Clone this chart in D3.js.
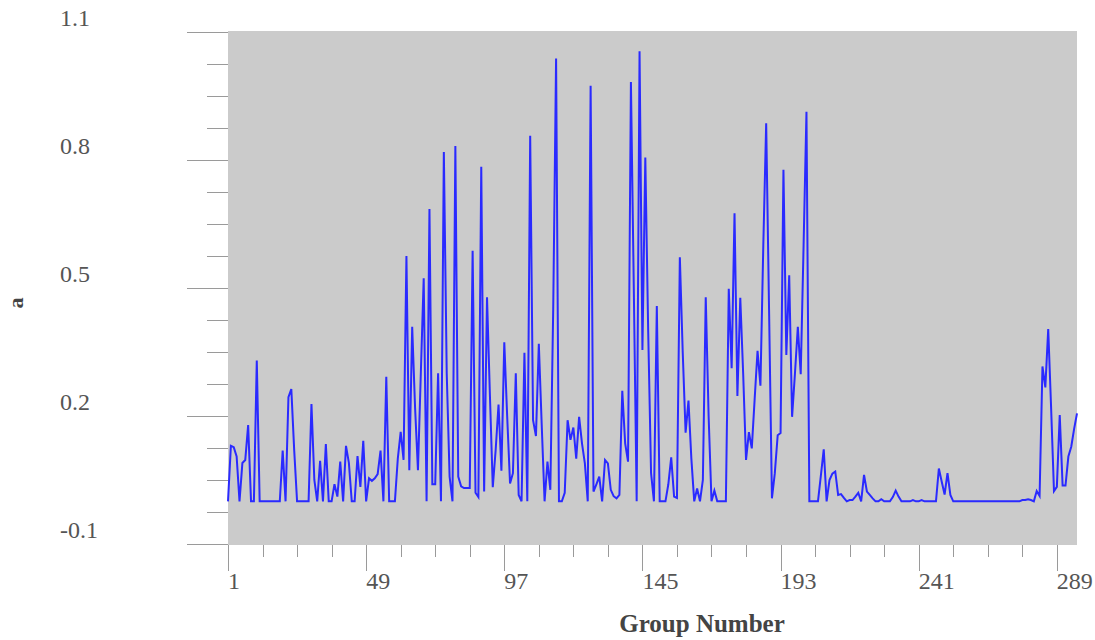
<!DOCTYPE html>
<html>
<head>
<meta charset="utf-8">
<script src="https://cdn.jsdelivr.net/npm/d3@7"></script>
<style>
  html, body { margin: 0; padding: 0; background: #ffffff; }
  svg { display: block; }
</style>
</head>
<body>
<svg id="chart" width="1095" height="640"></svg>
<script>
// Series "a" per group (groups numbered 1..296)
const aValues = [
  0, 0.13, 0.127, 0.105, 0, 0.09, 0.097, 0.179, 0, 0,
  0.33, 0, 0, 0, 0, 0, 0, 0, 0, 0.119,
  0, 0.244, 0.263, 0.12, 0, 0, 0, 0, 0, 0.228,
  0.05, 0, 0.095, 0, 0.134, 0, 0, 0.04, 0.011, 0.093,
  0, 0.13, 0.09, 0, 0, 0.106, 0.034, 0.142, 0, 0.054,
  0.048, 0.054, 0.064, 0.119, 0, 0.292, 0, 0, 0, 0.1,
  0.163, 0.097, 0.575, 0.073, 0.409, 0.22, 0.073, 0.3, 0.523, 0,
  0.685, 0.04, 0.04, 0.30, 0, 0.819, 0.3, 0.058, 0, 0.833,
  0.058, 0.035, 0.031, 0.031, 0.031, 0.587, 0.02, 0.01, 0.784, 0.023,
  0.478, 0.25, 0.033, 0.12, 0.227, 0.072, 0.373, 0.2, 0.042, 0.066,
  0.30, 0.015, 0, 0.348, 0, 0.857, 0.19, 0.153, 0.369, 0.18,
  0, 0.093, 0.027, 0.45, 1.038, 0, 0, 0.02, 0.19, 0.144,
  0.173, 0.10, 0.198, 0.136, 0.089, 0, 0.974, 0.023, 0.04, 0.058,
  0, 0.097, 0.089, 0.027, 0.012, 0.007, 0.015, 0.259, 0.136, 0.093,
  0.983, 0.5, 0, 1.055, 0.355, 0.806, 0.4, 0.066, 0, 0.458,
  0, 0, 0, 0.04, 0.103, 0.011, 0.008, 0.572, 0.35, 0.161,
  0.236, 0.1, 0, 0.03, 0, 0.05, 0.478, 0.2, 0, 0.025,
  0, 0, 0, 0, 0.498, 0.312, 0.675, 0.247, 0.477, 0.3,
  0.097, 0.162, 0.124, 0.24, 0.353, 0.271, 0.6, 0.886, 0.45, 0.007,
  0.066, 0.155, 0.16, 0.777, 0.343, 0.53, 0.198, 0.3, 0.409, 0.298,
  0.6, 0.913, 0, 0, 0, 0, 0.06, 0.122, 0, 0.05,
  0.065, 0.07, 0.015, 0.017, 0.008, 0, 0.003, 0.003, 0.011, 0.02,
  0, 0.062, 0.023, 0.015, 0.007, 0, 0, 0.005, 0, 0,
  0, 0.01, 0.025, 0.011, 0, 0, 0, 0, 0.003, 0,
  0, 0.003, 0, 0, 0, 0, 0, 0.077, 0.046, 0.016,
  0.066, 0.015, 0, 0, 0, 0, 0, 0, 0, 0,
  0, 0, 0, 0, 0, 0, 0, 0, 0, 0,
  0, 0, 0, 0, 0, 0, 0.003, 0.003, 0.005, 0.003,
  0, 0.024, 0.0125, 0.316, 0.267, 0.404, 0.22, 0.024, 0.034, 0.202,
  0.037, 0.037, 0.105, 0.128, 0.17, 0.206
];
const groupNumbers = aValues.map((_, i) => i + 1);

// Axis ticks
const xMajorTicks = [1, 49, 97, 145, 193, 241, 289];
const xTickStep = 12;
const yMajorTicks = [-0.1, 0.2, 0.5, 0.8, 1.1];
const yTickStep = 0.075;

const xTitle = "Group Number";
const yTitle = "a";

// Layout
const plot = { left: 228, right: 1077, top: 31, bottom: 545 };
const serif = "'Liberation Serif', 'Times New Roman', serif";

const svg = d3.select("#chart");

const x = d3.scaleLinear()
  .domain([1, groupNumbers.length])
  .range([plot.left, plot.right]);

const y = d3.scaleLinear()
  .domain([-0.1, 1.1])
  .range([544, 32]);

// Plot background
svg.append("rect")
  .attr("x", plot.left)
  .attr("y", plot.top)
  .attr("width", plot.right - plot.left)
  .attr("height", plot.bottom - plot.top)
  .attr("fill", "#cbcbcb");

// Y ticks: long at labelled values, short in between
const yTicks = d3.range(0, 17).map(i => +(-0.1 + i * yTickStep).toFixed(4));
const isYMajor = v => yMajorTicks.some(m => Math.abs(m - v) < 1e-6);

svg.append("g")
  .selectAll("line")
  .data(yTicks)
  .join("line")
  .attr("x1", d => isYMajor(d) ? 187 : 207)
  .attr("x2", plot.left)
  .attr("y1", d => Math.round(y(d)) + 0.5)
  .attr("y2", d => Math.round(y(d)) + 0.5)
  .attr("stroke", "#9a9a9a")
  .attr("stroke-width", 1);

svg.append("g")
  .selectAll("text")
  .data(yMajorTicks)
  .join("text")
  .attr("x", 60)
  .attr("y", d => y(d) - 12)
  .attr("dominant-baseline", "middle")
  .attr("font-family", serif)
  .attr("font-size", 24)
  .attr("fill", "#555")
  .text(d => d.toFixed(1));

// X ticks: every 12 groups, long at labelled groups
const xTicks = d3.range(1, 290, xTickStep);
const isXMajor = v => xMajorTicks.includes(v);

svg.append("g")
  .selectAll("line")
  .data(xTicks)
  .join("line")
  .attr("x1", d => Math.round(x(d)) + 0.5)
  .attr("x2", d => Math.round(x(d)) + 0.5)
  .attr("y1", plot.bottom)
  .attr("y2", d => isXMajor(d) ? 571 : 557)
  .attr("stroke", "#9a9a9a")
  .attr("stroke-width", 1);

svg.append("g")
  .selectAll("text")
  .data(xMajorTicks)
  .join("text")
  .attr("x", d => x(d))
  .attr("y", 583)
  .attr("dominant-baseline", "middle")
  .attr("font-family", serif)
  .attr("font-size", 24)
  .attr("fill", "#555")
  .text(d => d);

// Axis titles
svg.append("text")
  .attr("x", 702)
  .attr("y", 626)
  .attr("text-anchor", "middle")
  .attr("dominant-baseline", "middle")
  .attr("font-family", serif)
  .attr("font-weight", "bold")
  .attr("font-size", 25)
  .attr("fill", "#444")
  .text(xTitle);

svg.append("text")
  .attr("transform", "translate(18,303) rotate(-90)")
  .attr("text-anchor", "middle")
  .attr("dominant-baseline", "middle")
  .attr("font-family", serif)
  .attr("font-weight", "bold")
  .attr("font-size", 22)
  .attr("fill", "#444")
  .text(yTitle);

// Data line
const line = d3.line()
  .x((d, i) => x(groupNumbers[i]))
  .y(d => y(d));

svg.append("path")
  .datum(aValues)
  .attr("d", line)
  .attr("fill", "none")
  .attr("stroke", "#2a2aff")
  .attr("stroke-width", 2)
  .attr("stroke-linejoin", "miter");
</script>
</body>
</html>
